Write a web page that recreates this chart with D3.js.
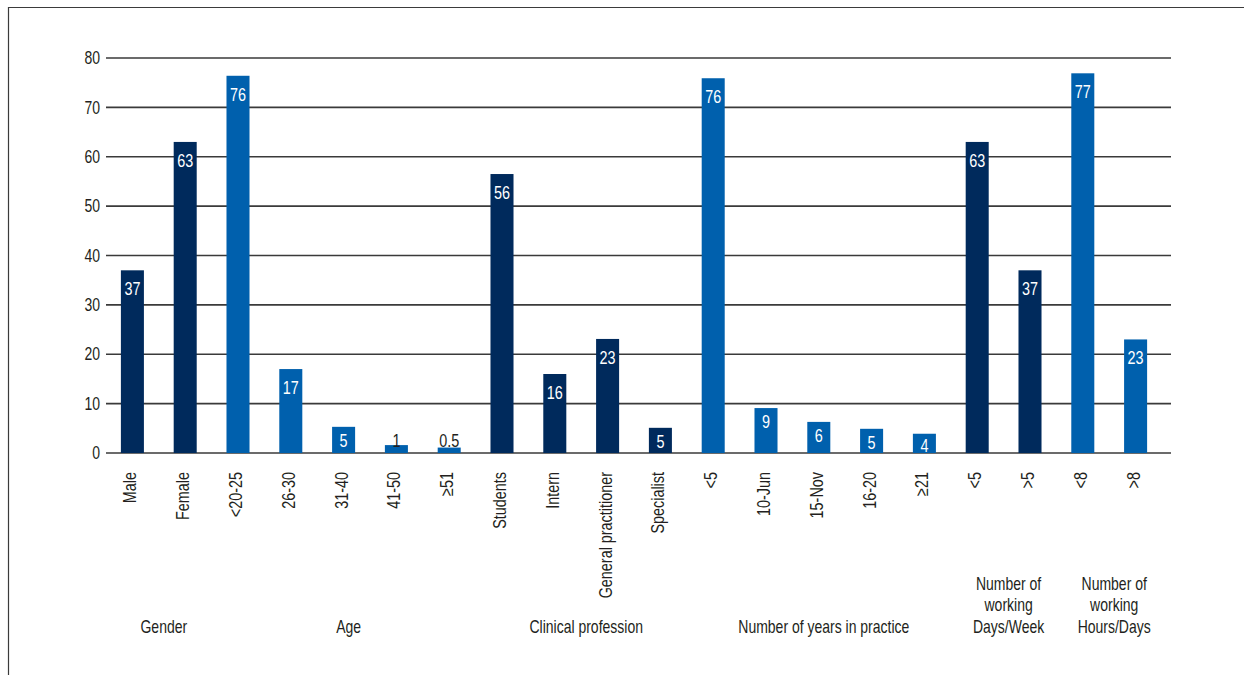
<!DOCTYPE html>
<html>
<head>
<meta charset="utf-8">
<script src="https://cdn.jsdelivr.net/npm/d3@7"></script>
<style>
  body { margin: 0; background: #fff; }
  svg { display: block; font-family: "Liberation Sans", Arial, sans-serif; }
  .tick-label, .group-label { fill: #231f20; font-size: 17.5px; }
  .cat-label { fill: #231f20; font-size: 18px; }
  .val-label { font-size: 18px; }
</style>
</head>
<body>
<div id="chart"></div>
<script>
// categories along the x axis, left to right
var categories = ['Male', 'Female', '<20-25', '26-30', '31-40', '41-50', '≥51',
    'Students', 'Intern', 'General practitioner', 'Specialist',
    '<5', '10-Jun', '15-Nov', '16-20', '≥21', '<5', '>5', '<8', '>8'];

// bar heights
var values = [37, 63, 76.4, 17, 5.3, 1.6, 1.1,
    56.5, 16, 23.1, 5.1,
    75.9, 9.1, 6.3, 4.9, 3.9,
    63, 37, 76.9, 23];

// printed value labels
var valueLabels = ['37', '63', '76', '17', '5', '1', '0.5',
    '56', '16', '23', '5',
    '76', '9', '6', '5', '4',
    '63', '37', '77', '23'];

// group index of each category
var groupOf = [0, 0, 1, 1, 1, 1, 1, 2, 2, 2, 2, 3, 3, 3, 3, 3, 4, 4, 5, 5];

// group labels (one entry per line)
var groupLabels = [
    ['Gender'],
    ['Age'],
    ['Clinical profession'],
    ['Number of years in practice'],
    ['Number of', 'working', 'Days/Week'],
    ['Number of', 'working', 'Hours/Days']
];

var yTicks = [0, 10, 20, 30, 40, 50, 60, 70, 80];

(function() {
    'use strict';

    var width = 1244, height = 675;
    var dark = '#002a5c', blue = '#0060ad';
    var textColor = '#231f20';
    // no condensed face installed: squeeze Liberation Sans along the text direction
    var narrow = ' scale(0.8,1)';

    var svg = d3.select('#chart').append('svg')
        .attr('width', width)
        .attr('height', height);

    // frame (top and left only)
    svg.append('path')
        .attr('d', 'M8.5,675 V7.5 H1244')
        .attr('fill', 'none')
        .attr('stroke', '#3b3b3b')
        .attr('stroke-width', 1.2);

    var x = d3.scaleBand()
        .domain(d3.range(categories.length))
        .range([106, 1162])
        .paddingInner(0.564)
        .paddingOuter(0.282);

    var y = d3.scaleLinear()
        .domain([0, 80])
        .range([453, 58]);

    var cx = function(i) { return x(i) + x.bandwidth() / 2; };

    // gridlines + y labels
    var grid = svg.append('g');
    grid.selectAll('line')
        .data(yTicks)
        .join('line')
        .attr('x1', 106)
        .attr('x2', 1171)
        .attr('y1', function(d) { return y(d); })
        .attr('y2', function(d) { return y(d); })
        .attr('stroke', '#3a3a3a')
        .attr('stroke-width', 1.6);

    grid.selectAll('text')
        .data(yTicks)
        .join('text')
        .attr('class', 'tick-label')
        .attr('transform', function(d) { return 'translate(100,' + y(d) + ')' + narrow; })
        .attr('dy', '0.35em')
        .attr('text-anchor', 'end')
        .text(function(d) { return d; });

    // bars
    svg.append('g').selectAll('rect')
        .data(values)
        .join('rect')
        .attr('x', function(d, i) { return x(i); })
        .attr('width', x.bandwidth())
        .attr('y', function(d) { return y(d); })
        .attr('height', function(d) { return y(0) - y(d); })
        .attr('fill', function(d, i) { return groupOf[i] % 2 === 0 ? dark : blue; });

    // value labels
    svg.append('g').selectAll('text')
        .data(values)
        .join('text')
        .attr('class', 'val-label')
        .attr('transform', function(d, i) {
            var ty;
            if (d < 2) ty = y(0) - 6;
            else ty = Math.min(y(d) + (d >= 10 ? 25 : 20), y(0) - 1);
            return 'translate(' + cx(i) + ',' + ty + ')' + narrow;
        })
        .attr('text-anchor', 'middle')
        .attr('fill', function(d) { return d < 2 ? textColor : '#fff'; })
        .text(function(d, i) { return valueLabels[i]; });

    // rotated category labels
    svg.append('g').selectAll('text')
        .data(categories)
        .join('text')
        .attr('class', 'cat-label')
        .attr('transform', function(d, i) {
            return 'translate(' + cx(i) + ',472) rotate(-90)' + narrow;
        })
        .attr('dy', '0.22em')
        .attr('text-anchor', 'end')
        .text(function(d) { return d; });

    // group labels, centred under their categories
    groupLabels.forEach(function(lines, g) {
        var idx = d3.range(categories.length).filter(function(i) { return groupOf[i] === g; });
        var gx = (cx(idx[0]) + cx(idx[idx.length - 1])) / 2 + 5;
        var t = svg.append('text')
            .attr('class', 'group-label')
            .attr('transform', 'translate(' + gx + ',0)' + narrow)
            .attr('text-anchor', 'middle');
        lines.forEach(function(line, k) {
            t.append('tspan')
                .attr('x', 0)
                .attr('y', 633 - (lines.length - 1 - k) * 21.5)
                .text(line);
        });
    });
})();
</script>
</body>
</html>
